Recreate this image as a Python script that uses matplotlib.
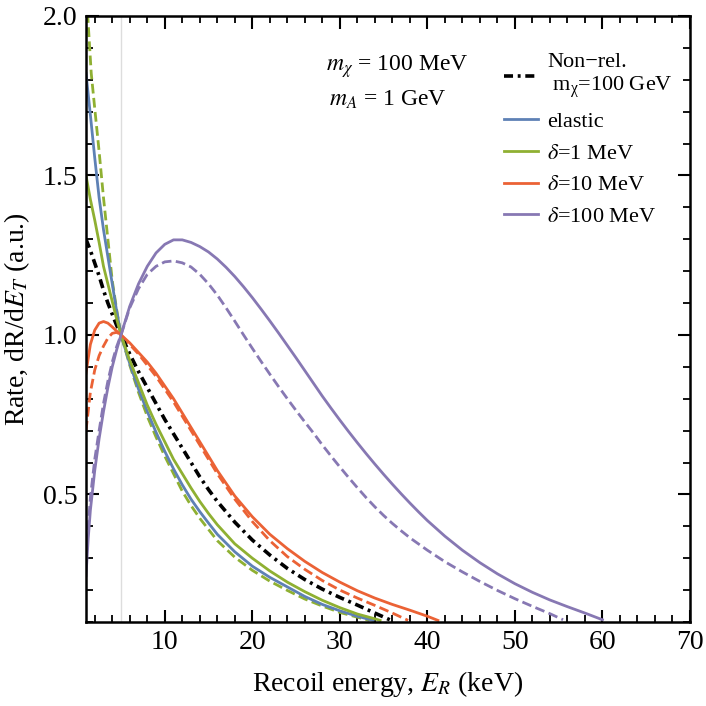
import matplotlib
matplotlib.use('Agg')
import matplotlib.pyplot as plt
from matplotlib.ticker import MultipleLocator

plt.rcParams['font.family'] = ['Liberation Serif', 'DejaVu Serif']
plt.rcParams['mathtext.fontset'] = 'stix'

# 颜色 (Mathematica 默认配色)
c_blue = '#5E81B5'
c_green = '#8FB032'
c_orange = '#EB6235'
c_purple = '#8778B3'

# 非相对论, m_chi = 100 GeV
er_nr = [1, 1.5, 2, 2.5, 3, 3.5, 4, 4.5, 5, 6, 7, 8, 9, 10, 11, 12, 13, 14, 15, 16,
         18, 20, 22, 24, 26, 28, 30, 32, 34, 35.7]
rate_nr = [1.30, 1.265, 1.225, 1.185, 1.14, 1.10, 1.065, 1.03, 1.0, 0.94, 0.885, 0.835,
           0.785, 0.735, 0.69, 0.645, 0.60, 0.555, 0.515, 0.478, 0.413, 0.357, 0.31,
           0.268, 0.233, 0.203, 0.177, 0.153, 0.128, 0.107]

# elastic
er_el = [1, 1.5, 2, 2.5, 3, 3.5, 4, 4.5, 5, 6, 7, 8, 9, 10, 11, 12, 13, 14, 15, 16,
         18, 20, 22, 24, 26, 28, 30, 32, 33.8]
rate_el = [1.82, 1.69, 1.555, 1.43, 1.33, 1.245, 1.16, 1.075, 1.0, 0.91, 0.83, 0.76, 0.695,
           0.635, 0.58, 0.53, 0.485, 0.446, 0.41, 0.375, 0.32, 0.275, 0.24, 0.21, 0.18,
           0.155, 0.135, 0.118, 0.105]

# delta = 1 MeV
er_d1 = [1, 1.5, 2, 2.5, 3, 3.5, 4, 4.5, 5, 6, 7, 8, 9, 10, 11, 12, 13, 14, 15, 16,
         18, 20, 22, 24, 26, 28, 30, 32, 34, 34.6]
rate_d1 = [1.50, 1.425, 1.36, 1.29, 1.215, 1.16, 1.105, 1.05, 1.0, 0.92, 0.85, 0.78, 0.72,
           0.665, 0.61, 0.565, 0.52, 0.478, 0.44, 0.405, 0.345, 0.30, 0.26, 0.225, 0.195,
           0.168, 0.145, 0.125, 0.11, 0.105]
er_d1_dash = [1, 1.2, 1.6, 2, 2.5, 3, 3.5, 4, 4.5, 5, 6, 7, 8, 9, 10, 11, 12, 13, 14, 15,
              16, 18, 20, 22, 24, 26, 28, 30, 32, 33.4]
rate_d1_dash = [2.09, 2.0, 1.82, 1.71, 1.575, 1.43, 1.30, 1.17, 1.08, 1.0, 0.905, 0.82,
                0.745, 0.68, 0.62, 0.565, 0.51, 0.465, 0.425, 0.39, 0.355, 0.303, 0.262,
                0.228, 0.199, 0.172, 0.15, 0.13, 0.115, 0.105]

# delta = 10 MeV
er_d10 = [1, 1.5, 2, 2.5, 3, 3.5, 4, 4.5, 5, 6, 7, 8, 9, 10, 11, 12, 13, 14, 15, 16, 17,
          18, 20, 22, 24, 26, 28, 30, 32, 34, 36, 38, 40, 41.2]
rate_d10 = [0.88, 0.97, 1.015, 1.037, 1.042, 1.037, 1.025, 1.012, 1.0, 0.975, 0.945, 0.915,
            0.88, 0.84, 0.80, 0.755, 0.71, 0.665, 0.62, 0.575, 0.535, 0.495, 0.43, 0.375,
            0.33, 0.29, 0.255, 0.225, 0.198, 0.175, 0.155, 0.137, 0.118, 0.105]
er_d10_dash = [1, 1.5, 2, 2.5, 3, 3.5, 4, 4.5, 5, 6, 7, 8, 9, 10, 11, 12, 13, 14, 15, 16,
               17, 18, 20, 22, 24, 26, 28, 30, 32, 34, 36, 37.8]
rate_d10_dash = [0.70, 0.82, 0.89, 0.935, 0.965, 0.99, 1.005, 1.008, 1.0, 0.97, 0.94, 0.905,
                 0.87, 0.83, 0.79, 0.745, 0.70, 0.655, 0.61, 0.565, 0.525, 0.485, 0.415,
                 0.355, 0.305, 0.265, 0.23, 0.20, 0.175, 0.152, 0.128, 0.105]

# delta = 100 MeV
er_d100 = [1, 1.25, 1.5, 2, 2.5, 3, 3.5, 4, 4.5, 5,
           6, 7, 8, 9, 10, 11, 12, 13, 14, 15, 16, 17, 18, 19, 20, 21, 22, 23, 24, 25,
           26, 27, 28, 29, 30, 31, 32, 33, 34, 35, 36, 37, 38, 39, 40,
           42, 44, 46, 48, 50, 52, 54, 56, 58, 60]
rate_d100 = [0.245, 0.36, 0.45, 0.575, 0.675, 0.76, 0.835, 0.90, 0.953, 1.0,
             1.09, 1.16, 1.215, 1.257, 1.284, 1.298, 1.298, 1.290, 1.277, 1.260,
             1.238, 1.212, 1.183, 1.151, 1.117, 1.081, 1.044, 1.006, 0.967, 0.928,
             0.888, 0.848, 0.808, 0.770, 0.733, 0.697, 0.662, 0.628, 0.595, 0.563,
             0.532, 0.502, 0.473, 0.445, 0.418,
             0.369, 0.325, 0.286, 0.251, 0.220, 0.193, 0.169, 0.148, 0.128, 0.107]
er_d100_dash = [1, 1.5, 2, 2.5, 3, 3.5, 4, 4.5, 5,
                6, 7, 8, 9, 10, 11, 12, 13, 14, 15, 16, 17, 18, 19, 20, 21, 22, 23, 24,
                25, 26, 27, 28, 29, 30, 31, 32, 33, 34, 35, 36, 37, 38,
                40, 42, 44, 46, 48, 50, 52, 54, 55.5]
rate_d100_dash = [0.30, 0.49, 0.61, 0.70, 0.785, 0.855, 0.915, 0.963, 1.0,
                  1.085, 1.145, 1.19, 1.215, 1.229, 1.232, 1.226, 1.213, 1.19, 1.16,
                  1.125, 1.085, 1.043, 1.0, 0.958, 0.917, 0.877, 0.838, 0.80, 0.763,
                  0.727, 0.692, 0.655, 0.620, 0.586, 0.553, 0.521, 0.490, 0.461, 0.434,
                  0.409, 0.386, 0.364,
                  0.325, 0.289, 0.257, 0.227, 0.199, 0.173, 0.149, 0.126, 0.107]

fig = plt.figure(figsize=(7.06, 7.06), dpi=100)
ax = fig.add_axes([0.1218, 0.119, 0.8555, 0.8584])

lw = 2.0
dash = (3.5, 1.6)

# 参考线 E = 5 keV
ax.axvline(5, color='#DDDDDD', lw=1.0, zorder=0)

ax.plot(er_d100_dash, rate_d100_dash, color=c_purple, lw=lw, dashes=dash)
ax.plot(er_d10_dash, rate_d10_dash, color=c_orange, lw=lw, dashes=dash)
ax.plot(er_d1_dash, rate_d1_dash, color=c_green, lw=lw, dashes=dash)
h_nr, = ax.plot(er_nr, rate_nr, color='black', lw=2.6, dashes=(2.5, 1.3, 0.8, 1.3),
                label='Non\u2212rel.\n $\\mathregular{m_\\chi}$=100 GeV')
h_el, = ax.plot(er_el, rate_el, color=c_blue, lw=lw, label='elastic')
h_d1, = ax.plot(er_d1, rate_d1, color=c_green, lw=lw, label=r'$\delta$=1 MeV')
h_d10, = ax.plot(er_d10, rate_d10, color=c_orange, lw=lw, label=r'$\delta$=10 MeV')
h_d100, = ax.plot(er_d100, rate_d100, color=c_purple, lw=lw, label=r'$\delta$=100 MeV')

ax.set_xlim(1, 70)
ax.set_ylim(0.1, 2.0)

ax.xaxis.set_major_locator(MultipleLocator(10))
ax.xaxis.set_minor_locator(MultipleLocator(2))
ax.yaxis.set_major_locator(MultipleLocator(0.5))
ax.yaxis.set_minor_locator(MultipleLocator(0.1))
ax.tick_params(which='both', direction='in', top=True, right=True, labelsize=20)
ax.tick_params(which='major', length=9, width=1.5, pad=6)
ax.tick_params(which='minor', length=5, width=1.3)
for s in ax.spines.values():
    s.set_linewidth(1.8)

ax.set_xlabel(r'Recoil energy, $E_R$ (keV)', fontsize=20, labelpad=10)
ax.set_ylabel(r'Rate, dR/d$E_T$ (a.u.)', fontsize=20, labelpad=8)

ax.text(0.515, 0.916, r'$m_\chi$ = 100 MeV', transform=ax.transAxes, fontsize=17,
        ha='center', va='center')
ax.text(0.5, 0.862, r'$m_A$ = 1 GeV', transform=ax.transAxes, fontsize=17,
        ha='center', va='center')

ax.legend(handles=[h_nr, h_el, h_d1, h_d10, h_d100], loc='upper right',
          bbox_to_anchor=(0.99, 0.958), frameon=False, fontsize=16,
          handlelength=1.55, handletextpad=0.4, labelspacing=0.5, borderpad=0)

plt.savefig('out.png', dpi=100)
